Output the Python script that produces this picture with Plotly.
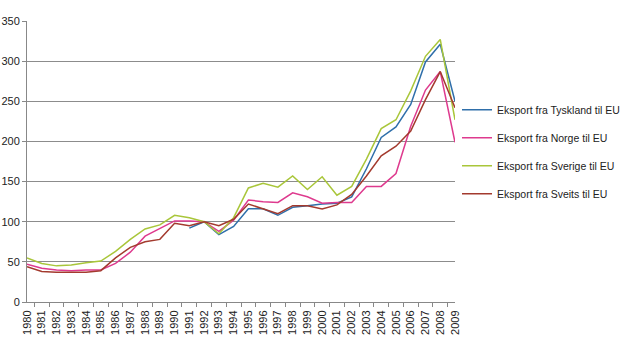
import plotly.graph_objects as go

years = [str(y) for y in range(1980, 2010)]

tyskland = [None]*11 + [92, 100, 84, 94, 116, 116, 108, 118, 120, 122, 123, 131, 166, 205, 218, 246, 299, 321, 250]
norge = [47, 42, 40, 39, 40, 40, 48, 62, 82, 92, 101, 101, 100, 88, 102, 127, 125, 124, 136, 131, 123, 124, 124, 144, 144, 160, 219, 264, 287, 199]
sverige = [55, 48, 45, 46, 49, 51, 63, 78, 91, 96, 108, 105, 100, 85, 105, 142, 148, 143, 157, 140, 156, 133, 144, 178, 216, 227, 263, 306, 327, 227]
sveits = [44, 38, 37, 37, 37, 39, 55, 68, 75, 78, 98, 95, 100, 95, 103, 122, 116, 110, 120, 120, 116, 121, 134, 157, 182, 194, 213, 252, 287, 242]

series = [
    ("Eksport fra Tyskland til EU", tyskland, "#2F6FAA"),
    ("Eksport fra Norge til EU", norge, "#DE3A8E"),
    ("Eksport fra Sverige til EU", sverige, "#A9C63A"),
    ("Eksport fra Sveits til EU", sveits, "#A33A2E"),
]

fig = go.Figure()
for i, (name, vals, col) in enumerate(series):
    fig.add_trace(go.Scatter(x=years, y=vals, name=name, mode="lines",
                             line=dict(color=col, width=1.5), legendgroup=str(i)))

fig.update_layout(
    width=620, height=349,
    margin=dict(l=27, r=165, t=21, b=47, autoexpand=False),
    paper_bgcolor="white", plot_bgcolor="white",
    font=dict(family="Liberation Sans, Arial, sans-serif", size=11, color="#222"),
    showlegend=True,
    legend=dict(x=1.0047, y=0.535, xanchor="left", yanchor="middle",
                tracegroupgap=9, font=dict(size=10.5), itemwidth=30,
                borderwidth=0, bgcolor="rgba(0,0,0,0)"),
    xaxis=dict(type="category", tickangle=-90, ticks="outside", tickson="boundaries",
               tickmode="linear", dtick=1, ticklabelstandoff=3,
               ticklen=4, tickcolor="#888", showline=True, linecolor="#888", linewidth=1,
               showgrid=False, tickfont=dict(size=11)),
    yaxis=dict(range=[0, 350], dtick=50, showgrid=True, gridcolor="#8c8c8c", gridwidth=1,
               ticks="outside", ticklen=4, tickcolor="#888", showline=True,
               linecolor="#888", linewidth=1, zeroline=False, tickfont=dict(size=11)),
)

fig.write_html("out.html")
